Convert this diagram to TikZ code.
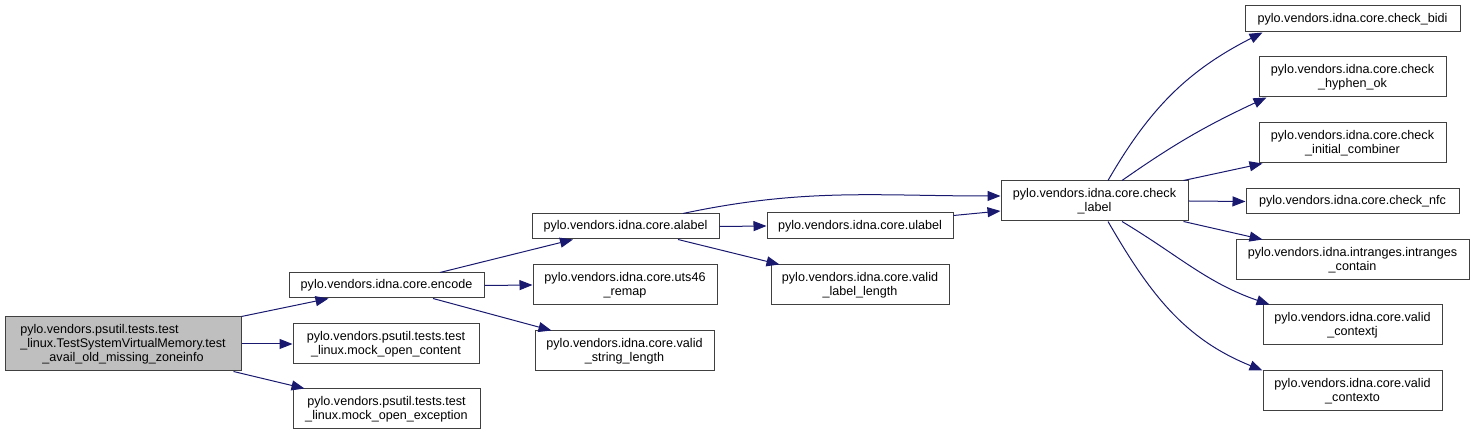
\documentclass[tikz,border=0pt]{standalone}
\usepackage{fontspec}
\usepackage{calc}
\setmainfont{Liberation Sans}
\usetikzlibrary{arrows.meta}
\definecolor{edgeblue}{HTML}{191970}
\definecolor{boxline}{HTML}{404040}
\definecolor{rootfill}{HTML}{BFBFBF}
\begin{document}
\begin{tikzpicture}[
        x=1pt, y=1pt,
        fn/.style={draw=boxline, line width=1pt, fill=white, inner sep=0pt,
                   align=center, font=\fontsize{12.6}{14.2}\selectfont},
        rootfn/.style={fn, fill=rootfill},
        call/.style={edgeblue, line width=1pt, -{Triangle[length=13pt,width=10pt]}}]

    \useasboundingbox (0,0) rectangle (1475,435);

    % --- Nodo raiz
    \node[rootfn, minimum width=236pt, minimum height=54pt] (root) at (123,91)
        {\makebox[\widthof{\_linux.TestSystemVirtualMemory.test}][l]{pylo.vendors.psutil.tests.test}\\\_linux.TestSystemVirtualMemory.test\\\_avail\_old\_missing\_zoneinfo};

    % --- Primer nivel
    \node[fn, minimum width=195pt, minimum height=25pt] (encode) at (386.5,149.5)
        {pylo.vendors.idna.core.encode};
    \node[fn, minimum width=186pt, minimum height=40pt] (content) at (386,91)
        {pylo.vendors.psutil.tests.test\\\_linux.mock\_open\_content};
    \node[fn, minimum width=187pt, minimum height=40pt] (exception) at (386.5,26)
        {pylo.vendors.psutil.tests.test\\\_linux.mock\_open\_exception};

    % --- Segundo nivel
    \node[fn, minimum width=187pt, minimum height=25pt] (alabel) at (625.5,208.5)
        {pylo.vendors.idna.core.alabel};
    \node[fn, minimum width=184pt, minimum height=40pt] (uts46) at (625,150)
        {pylo.vendors.idna.core.uts46\\\_remap};
    \node[fn, minimum width=179pt, minimum height=40pt] (vstrlen) at (624.5,84)
        {pylo.vendors.idna.core.valid\\\_string\_length};

    % --- Tercer nivel
    \node[fn, minimum width=186pt, minimum height=26pt] (ulabel) at (860,209)
        {pylo.vendors.idna.core.ulabel};
    \node[fn, minimum width=178pt, minimum height=40pt] (vlablen) at (860,150)
        {pylo.vendors.idna.core.valid\\\_label\_length};
    \node[fn, minimum width=187pt, minimum height=40pt] (chk) at (1094.5,234)
        {pylo.vendors.idna.core.check\\\_label};

    % --- Hojas de check_label
    \node[fn, minimum width=215pt, minimum height=26pt] (bidi) at (1352.5,416)
        {pylo.vendors.idna.core.check\_bidi};
    \node[fn, minimum width=187pt, minimum height=40pt] (hyphen) at (1352.5,358)
        {pylo.vendors.idna.core.check\\\_hyphen\_ok};
    \node[fn, minimum width=187pt, minimum height=40pt] (initcomb) at (1352.5,292)
        {pylo.vendors.idna.core.check\\\_initial\_combiner};
    \node[fn, minimum width=213pt, minimum height=25pt] (nfc) at (1352.5,233.5)
        {pylo.vendors.idna.core.check\_nfc};
    \node[fn, minimum width=233pt, minimum height=40pt] (intr) at (1352.5,175)
        {pylo.vendors.idna.intranges.intranges\\\_contain};
    \node[fn, minimum width=179pt, minimum height=40pt] (ctxj) at (1352.5,110)
        {pylo.vendors.idna.core.valid\\\_contextj};
    \node[fn, minimum width=179pt, minimum height=40pt] (ctxo) at (1352.5,44)
        {pylo.vendors.idna.core.valid\\\_contexto};

    % --- Llamadas desde la raiz
    \draw[call] (root.north east) -- ([xshift=-58pt]encode.south);
    \draw[call] (root.east) -- (content.west);
    \draw[call] ([xshift=-8pt]root.south east) -- ([xshift=12pt]exception.north west);

    % --- Llamadas desde encode
    \draw[call] ([xshift=53.5pt]encode.north) -- ([xshift=-52.5pt]alabel.south);
    \draw[call] (encode.east) -- (uts46.west);
    \draw[call] ([xshift=46.5pt]encode.south) -- ([xshift=17pt]vstrlen.north west);

    % --- Llamadas desde alabel y ulabel
    \draw[call] ([xshift=57.5pt]alabel.north) to[out=12, in=180] ([yshift=5pt]chk.west);
    \draw[call] (alabel.east) -- (ulabel.west);
    \draw[call] ([xshift=52.5pt]alabel.south) -- ([xshift=9pt]vlablen.north west);
    \draw[call] ([yshift=-3pt]ulabel.north east) -- ([yshift=-10pt]chk.west);

    % --- Llamadas desde check_label
    \draw[call] ([xshift=13.5pt]chk.north) to[out=60, in=-153] ([xshift=18pt]bidi.south west);
    \draw[call] ([xshift=27.5pt]chk.north) to[out=35, in=-155] ([xshift=8pt]hyphen.south west);
    \draw[call] ([xshift=-5pt]chk.north east) -- ([xshift=4pt]initcomb.south west);
    \draw[call] (chk.east) -- (nfc.west);
    \draw[call] ([xshift=-5pt]chk.south east) -- ([xshift=27pt]intr.north west);
    \draw[call] ([xshift=27.5pt]chk.south) to[out=-31, in=161] ([xshift=7pt]ctxj.north west);
    \draw[call] ([xshift=13.5pt]chk.south) to[out=-60, in=158] (ctxo.north west);

    \end{tikzpicture}
\end{document}
